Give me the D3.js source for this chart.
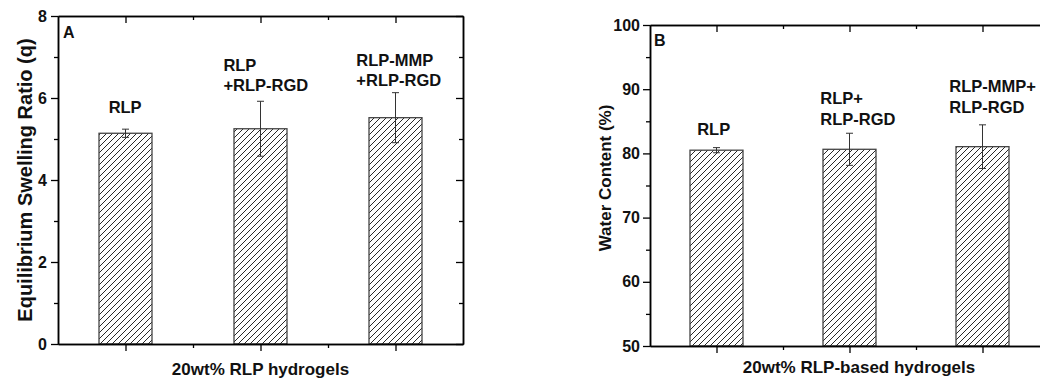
<!DOCTYPE html>
<html>
<head>
<meta charset="utf-8">
<script src="https://cdn.jsdelivr.net/npm/d3@7"></script>
<style>
	body { margin: 0; background: #fff; }
	svg { display: block; }
	text { font-family: "Liberation Sans", Arial, sans-serif; font-weight: bold; fill: #111; }
</style>
</head>
<body>
<div id="chart"></div>
<script>
// Data
var swell_labels = [["RLP"], ["RLP", "+RLP-RGD"], ["RLP-MMP", "+RLP-RGD"]];
var swell_values = [5.14, 5.25, 5.52];
var swell_errors = [0.10, 0.67, 0.61];
var swell_ticks = [0, 2, 4, 6, 8];

var water_labels = [["RLP"], ["RLP+", "RLP-RGD"], ["RLP-MMP+", "RLP-RGD"]];
var water_values = [80.5, 80.64, 81.05];
var water_errors = [0.4, 2.5, 3.4];
var water_ticks = [50, 60, 70, 80, 90, 100];

// bar slots on the x axis (0..6, bars sit on 1, 3, 5)
var bar_slots = [1, 3, 5];

var svg_w = 1040;
var svg = d3.select("#chart").append("svg")
	.attr("width", svg_w)
	.attr("height", 382);

// diagonal hatch for the bars
var defs = svg.append("defs");
defs.append("pattern")
	.attr("id", "hatch")
	.attr("patternUnits", "userSpaceOnUse")
	.attr("width", 6)
	.attr("height", 6)
	.append("path")
	.attr("d", "M-1,1 l2,-2 M0,6 l6,-6 M5,7 l2,-2")
	.attr("stroke", "#111")
	.attr("stroke-width", 0.9);

draw_panel({
	left: 58, right: 463, top: 16, bottom: 344,
	domain: [0, 8], ticks: swell_ticks, minor: [1, 3, 5, 7],
	values: swell_values, errors: swell_errors, labels: swell_labels,
	label_pos: [[0.75, 5.63], [2.45, 6.66], [4.42, 6.79]], line_gap: 20,
	letter: "A", letter_pos: [5, 22],
	y_title: "Equilibrium Swelling Ratio (q)", y_title_x: 32, y_title_size: 20,
	x_title: "20wt% RLP hydrogels", x_title_x: 260.5, x_title_y: 375,
	tick_label_gap: 11
});

// panel B runs past the right edge of the picture
draw_panel({
	left: 650, right: 1049, top: 25, bottom: 346,
	domain: [50, 100], ticks: water_ticks, minor: [55, 65, 75, 85, 95],
	values: water_values, errors: water_errors, labels: water_labels,
	label_pos: [[0.71, 82.87], [2.56, 87.65], [4.5, 89.6]], line_gap: 21,
	letter: "B", letter_pos: [4, 21],
	y_title: "Water Content (%)", y_title_x: 611, y_title_size: 17, y_title_center: 178,
	x_title: "20wt% RLP-based hydrogels", x_title_x: 859, x_title_y: 373,
	tick_label_gap: 10
});

function draw_panel(p) {
	var x = d3.scaleLinear().domain([0, 6]).range([p.left, p.right]);
	var y = d3.scaleLinear().domain(p.domain).range([p.bottom, p.top]);
	var bar_w = 53;

	var g = svg.append("g");

	// bars
	g.selectAll(".bar")
		.data(p.values)
		.enter().append("rect")
		.attr("x", function(d, i) { return x(bar_slots[i]) - bar_w / 2; })
		.attr("y", function(d) { return y(d); })
		.attr("width", bar_w)
		.attr("height", function(d) { return y(p.domain[0]) - y(d); })
		.attr("fill", "url(#hatch)")
		.attr("stroke", "#444")
		.attr("stroke-width", 1.3);

	// error bars
	var err = g.selectAll(".err")
		.data(p.values)
		.enter().append("g")
		.attr("stroke", "#333")
		.attr("stroke-width", 1);
	err.append("line")
		.attr("x1", function(d, i) { return x(bar_slots[i]); })
		.attr("x2", function(d, i) { return x(bar_slots[i]); })
		.attr("y1", function(d, i) { return y(d + p.errors[i]); })
		.attr("y2", function(d, i) { return y(d - p.errors[i]); });
	[1, -1].forEach(function(sign) {
		err.append("line")
			.attr("x1", function(d, i) { return x(bar_slots[i]) - 3.5; })
			.attr("x2", function(d, i) { return x(bar_slots[i]) + 3.5; })
			.attr("y1", function(d, i) { return y(d + sign * p.errors[i]); })
			.attr("y2", function(d, i) { return y(d + sign * p.errors[i]); });
	});

	// axes: left/bottom ticks outside, top/right ticks inside
	var x_major = bar_slots, x_minor = [2, 4];
	var axis_style = function(sel) {
		sel.select(".domain").attr("stroke", "#000").attr("stroke-width", 1.5);
		sel.selectAll(".tick line").attr("stroke", "#000").attr("stroke-width", 1.3);
		sel.selectAll(".tick text")
			.style("font-size", "16px")
			.style("font-family", "'Liberation Sans', Arial, sans-serif")
			.style("font-weight", "bold")
			.attr("fill", "#111");
	};

	g.append("g").attr("transform", "translate(0," + p.bottom + ")")
		.call(d3.axisBottom(x).tickValues(x_major).tickSize(7).tickSizeOuter(0).tickFormat(""))
		.call(axis_style);
	g.append("g").attr("transform", "translate(0," + p.bottom + ")")
		.call(d3.axisBottom(x).tickValues(x_minor).tickSize(4).tickSizeOuter(0).tickFormat(""))
		.call(axis_style);
	g.append("g").attr("transform", "translate(0," + p.top + ")")
		.call(d3.axisTop(x).tickValues(x_major).tickSize(-7).tickSizeOuter(0).tickFormat(""))
		.call(axis_style);
	g.append("g").attr("transform", "translate(0," + p.top + ")")
		.call(d3.axisTop(x).tickValues(x_minor).tickSize(-4).tickSizeOuter(0).tickFormat(""))
		.call(axis_style);

	g.append("g").attr("transform", "translate(" + p.left + ",0)")
		.call(d3.axisLeft(y).tickValues(p.ticks).tickSize(7).tickSizeOuter(0)
			.tickPadding(p.tick_label_gap - 7).tickFormat(d3.format("d")))
		.call(axis_style);
	g.append("g").attr("transform", "translate(" + p.left + ",0)")
		.call(d3.axisLeft(y).tickValues(p.minor).tickSize(4).tickSizeOuter(0).tickFormat(""))
		.call(axis_style);

	// right axis only when it is inside the picture
	if (p.right < svg_w) {
		g.append("g").attr("transform", "translate(" + p.right + ",0)")
			.call(d3.axisRight(y).tickValues(p.ticks).tickSize(-7).tickSizeOuter(0).tickFormat(""))
			.call(axis_style);
		g.append("g").attr("transform", "translate(" + p.right + ",0)")
			.call(d3.axisRight(y).tickValues(p.minor).tickSize(-4).tickSizeOuter(0).tickFormat(""))
			.call(axis_style);
	}

	// bar annotations
	p.labels.forEach(function(lines, i) {
		var t = g.append("text")
			.attr("x", x(p.label_pos[i][0]))
			.attr("y", y(p.label_pos[i][1]))
			.style("font-size", "16.5px");
		lines.forEach(function(line, k) {
			t.append("tspan")
				.attr("x", x(p.label_pos[i][0]))
				.attr("dy", k == 0 ? 0 : p.line_gap)
				.text(line);
		});
	});

	// panel letter
	g.append("text")
		.attr("x", p.left + p.letter_pos[0])
		.attr("y", p.top + p.letter_pos[1])
		.style("font-size", "16px")
		.text(p.letter);

	// axis titles
	var y_mid = p.y_title_center || (p.top + p.bottom) / 2;
	g.append("text")
		.attr("transform", "translate(" + p.y_title_x + "," + y_mid + ") rotate(-90)")
		.attr("text-anchor", "middle")
		.style("font-size", p.y_title_size + "px")
		.text(p.y_title);

	g.append("text")
		.attr("x", p.x_title_x)
		.attr("y", p.x_title_y)
		.attr("text-anchor", "middle")
		.style("font-size", "17px")
		.text(p.x_title);
}
</script>
</body>
</html>
